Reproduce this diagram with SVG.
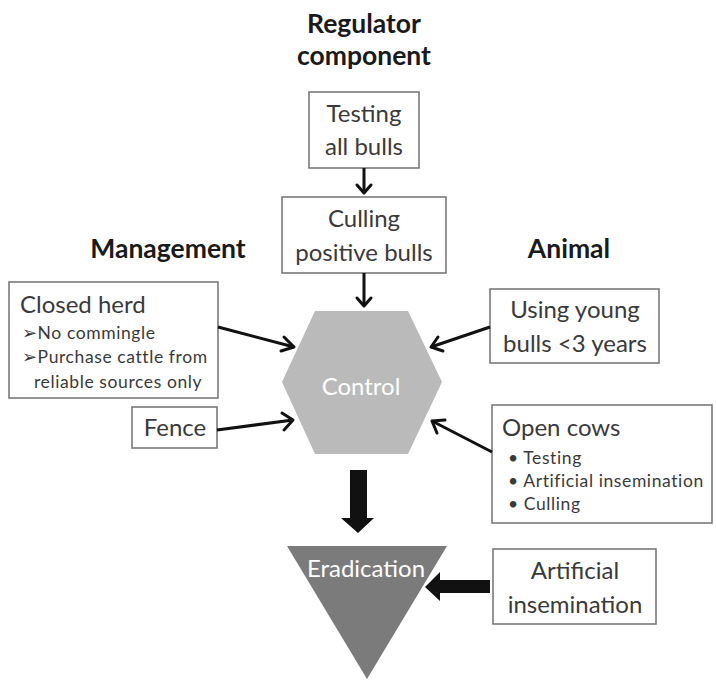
<svg xmlns="http://www.w3.org/2000/svg" width="716" height="688" viewBox="0 0 716 688">
<style>
.box{fill:#fff;stroke:#7a7a7a;stroke-width:1.6}
.t{font-family:Lato,"Open Sans",sans-serif;font-size:24px;fill:#3a3a3a}
.s{font-family:Lato,"Open Sans",sans-serif;font-size:17.5px;letter-spacing:0.6px;fill:#3a3a3a}
.h{font-family:Lato,"Open Sans",sans-serif;font-size:26.5px;font-weight:bold;fill:#1a1a1a}
.w{font-family:Lato,"Open Sans",sans-serif;font-size:24px;fill:#fff}
.c{stroke:#111;stroke-width:3;fill:none}
.hd{stroke:#111;stroke-width:3;fill:none;stroke-linecap:round;stroke-linejoin:round}
</style>
<rect width="716" height="688" fill="#fff"/>
<g id="headings">
<text class="h" x="364" y="33" text-anchor="middle">Regulator</text>
<text class="h" x="364" y="65" text-anchor="middle">component</text>
<text class="h" x="168" y="258" text-anchor="middle">Management</text>
<text class="h" x="569" y="258" text-anchor="middle">Animal</text>
</g>
<g id="testing">
<rect class="box" x="309" y="92" width="110" height="76"/>
<text class="t" x="364" y="122" text-anchor="middle">Testing</text>
<text class="t" x="364" y="155" text-anchor="middle">all bulls</text>
</g>
<g id="culling">
<rect class="box" x="282" y="197" width="164" height="76"/>
<text class="t" x="364" y="227" text-anchor="middle">Culling</text>
<text class="t" x="364" y="261" text-anchor="middle">positive bulls</text>
</g>
<g id="closedherd">
<rect class="box" x="9" y="282" width="209" height="116"/>
<text class="t" x="20" y="313">Closed herd</text>
<text class="s" x="22" y="339">➢No commingle</text>
<text class="s" x="22" y="363">➢Purchase cattle from</text>
<text class="s" x="34" y="388">reliable sources only</text>
</g>
<g id="fence">
<rect class="box" x="132" y="407" width="85" height="41"/>
<text class="t" x="175" y="436" text-anchor="middle">Fence</text>
</g>
<g id="youngbulls">
<rect class="box" x="490" y="289" width="169" height="74"/>
<text class="t" x="575" y="318" text-anchor="middle">Using young</text>
<text class="t" x="575" y="352" text-anchor="middle">bulls &lt;3 years</text>
</g>
<g id="opencows">
<rect class="box" x="492" y="405" width="220" height="118"/>
<text class="t" x="502" y="436">Open cows</text>
<text class="s" x="508" y="464">• Testing</text>
<text class="s" x="508" y="487">• Artificial insemination</text>
<text class="s" x="508" y="510">• Culling</text>
</g>
<g id="ai">
<rect class="box" x="493" y="549" width="163" height="75"/>
<text class="t" x="575" y="579" text-anchor="middle">Artificial</text>
<text class="t" x="575" y="613" text-anchor="middle">insemination</text>
</g>
<g id="control">
<polygon points="315,311 408,311 442,382 408,454 315,454 282,382" fill="#bababa"/>
<text class="w" x="361" y="395" text-anchor="middle">Control</text>
</g>
<g id="eradication">
<polygon points="287,546 447,546 367,679" fill="#7b7b7b"/>
<text class="w" x="366" y="577" text-anchor="middle">Eradication</text>
</g>
<g id="connectors">
<line class="c" x1="364" y1="168" x2="364" y2="193"/>
<polyline class="hd" points="357,185 364,193 371,185"/>
<line class="c" x1="364" y1="273" x2="364" y2="306"/>
<polyline class="hd" points="357,298 364,306 371,298"/>
<line class="c" x1="218" y1="327" x2="294" y2="347"/>
<polyline class="hd" points="284,337 294,347 281,351"/>
<line class="c" x1="217" y1="430" x2="293" y2="420"/>
<polyline class="hd" points="282,413 293,420 284,430"/>
<line class="c" x1="490" y1="327" x2="431" y2="347"/>
<polyline class="hd" points="443,351 431,347 438,337"/>
<line class="c" x1="492" y1="452" x2="432" y2="421"/>
<polyline class="hd" points="437,433 432,421 445,420"/>
<polygon points="350,470 367,470 367,518 374,518 358,533 341,518 350,518" fill="#111"/>
<polygon points="490,580 440,580 440,572 425,587 440,601 440,593 490,593" fill="#111"/>
</g>
</svg>
